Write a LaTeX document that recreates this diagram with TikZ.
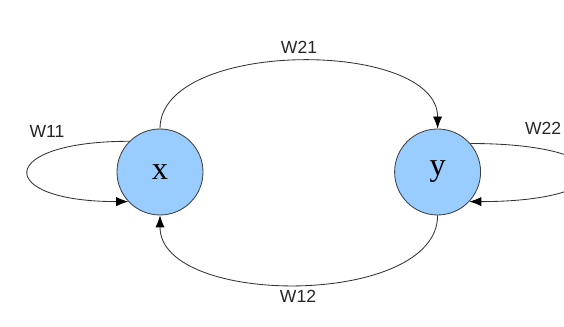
\documentclass[tikz,border=0pt]{standalone}
\usepackage{fontspec}
\setmainfont{Liberation Serif}
\setsansfont{Liberation Sans}
\usetikzlibrary{arrows.meta,positioning}

\definecolor{nodeblue}{RGB}{153,204,255}

\begin{document}
\begin{tikzpicture}[
    state/.style={circle, draw=black!75, fill=nodeblue, line width=0.6pt, minimum size=2.15cm, inner sep=0pt, font=\fontsize{23}{26}\selectfont},
    weight/.style={font=\sffamily\fontsize{12.5}{14}\selectfont, text=black!85},
    wire/.style={draw=black!80, line width=0.6pt, -{Latex[length=3mm,width=2.3mm,color=black]}}
]
\useasboundingbox (0,0) rectangle (14.1,8.175);
\node[state] (x) at (4.0,3.875) {x};
\node[state] (y) at (10.94,3.875) {y};

\node[weight] (w21) at (7.475,7.0) {W21};
\node[weight] (w11) at (1.175,4.9) {W11};
\node[weight] (w22) at (13.58,4.97) {W22};
\node[weight] (w12) at (7.45,0.775) {W12};

\draw[wire] (x.north) to[out=90, in=90, looseness=0.83] (y.north);
\draw[wire] (y.south) to[out=-90, in=-90, looseness=0.85] (x.south);
\draw[wire] (x.135) .. controls +(-3.35,0) and +(-3.35,0) .. (x.223);
\draw[wire] (y.41) .. controls +(3.9,0) and +(3.9,0) .. (y.-43);
\end{tikzpicture}
\end{document}
